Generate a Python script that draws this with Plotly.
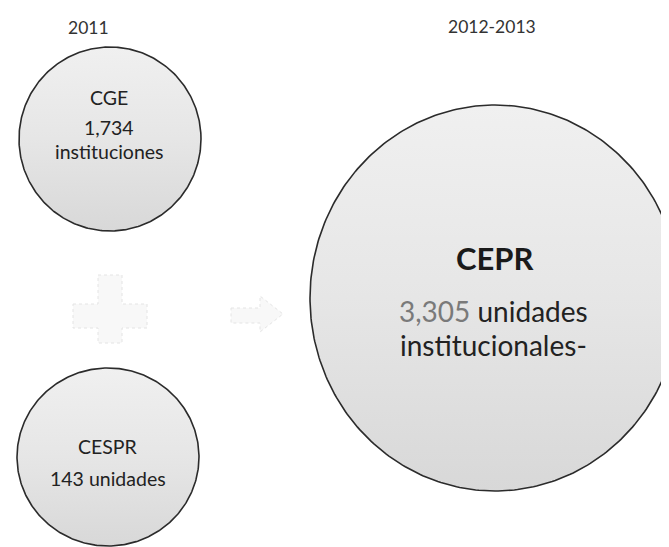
import numpy as np
import plotly.graph_objects as go

# ---- data ----
periods = ["2011", "2012-2013"]
entities = ["CGE", "CESPR", "CEPR"]
counts = ["1,734", "143", "3,305"]
units = ["instituciones", "unidades", "unidades institucionales-"]

W, H = 669, 547
FONT = "Lato, 'Open Sans', sans-serif"
INK = "#222222"

# layout geometry (pixels): cx, cy, rx, ry
circles = {
    "CGE": (102, 131, 91, 92),
    "CESPR": (100, 449, 91, 89),
    "CEPR": (487, 290, 185, 193),
}

fig = go.Figure()
theta = np.linspace(0, 2 * np.pi, 361)
for name in entities:
    cx, cy, rx, ry = circles[name]
    fig.add_trace(go.Scatter(
        x=cx + rx * np.cos(theta), y=cy + ry * np.sin(theta),
        mode="lines", fill="toself",
        fillgradient=dict(type="vertical",
                          colorscale=[[0, "#d8d8d8"], [0.5, "#e6e6e6"], [1, "#f0f0f0"]]),
        line=dict(color="#2b2b2b", width=1.6),
        hoverinfo="skip", showlegend=False,
    ))

ann = []
def txt(x, y, s, size, bold=False, color=INK):
    ann.append(dict(x=x, y=y, xref="x", yref="y", text=f"<b>{s}</b>" if bold else s,
                    showarrow=False, xanchor="center", yanchor="middle",
                    font=dict(family=FONT, size=size, color=color)))

txt(80, 19, periods[0], 17.5, color="#333333")
txt(484, 18, periods[1], 17.5, color="#333333")

txt(101, 89, entities[0], 19.5)
txt(101, 119, counts[0], 19.5)
txt(101, 143, units[0], 19.5)

txt(100, 438, entities[1], 19.5)
txt(100, 470, f"{counts[1]} {units[1]}", 19.5)

u = units[2].split(" ")
txt(487, 250, entities[2], 31, bold=True, color="#1a1a1a")
txt(485, 303, f"<span style='color:#7a7a7a'>{counts[2]}</span> {u[0]}", 28)
txt(485, 337, u[1], 28)

shapes = [
    # faint plus sign
    dict(type="path", xref="x", yref="y",
         path="M 65 296 L 90 296 L 90 267 L 114 267 L 114 296 L 139 296 L 139 320 "
              "L 114 320 L 114 335 L 90 335 L 90 320 L 65 320 Z",
         fillcolor="#f8f8f8", line=dict(color="#e4e4e4", width=1, dash="dot")),
    # faint arrow
    dict(type="path", xref="x", yref="y",
         path="M 223 300 L 252 300 L 252 288 L 275 306 L 252 324 L 252 315 L 223 315 Z",
         fillcolor="#f8f8f8", line=dict(color="#e4e4e4", width=1, dash="dot")),
]

fig.update_layout(
    width=W, height=H, margin=dict(l=0, r=0, t=0, b=0),
    paper_bgcolor="white", plot_bgcolor="white",
    xaxis=dict(range=[0, W], visible=False, fixedrange=True),
    yaxis=dict(range=[H, 0], visible=False, fixedrange=True),
    annotations=ann, shapes=shapes, showlegend=False,
)
fig.write_html("out.html")
